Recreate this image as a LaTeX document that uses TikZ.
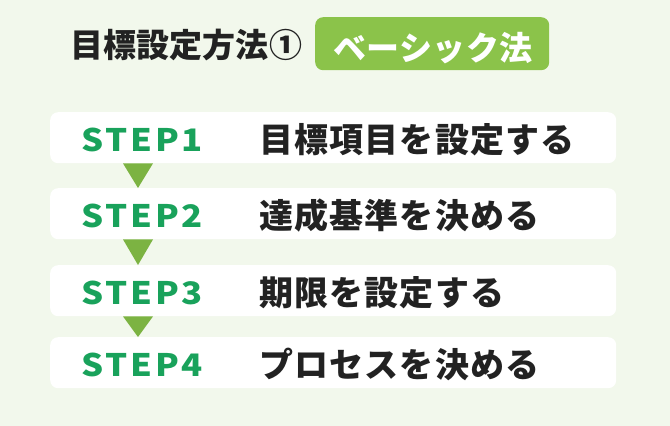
\documentclass[tikz,border=0pt]{standalone}
\usepackage{fontspec}
\newfontfamily\jp{Noto Sans CJK JP}
\newfontfamily\stepfont{Noto Sans CJK JP}[FakeStretch=1.12]
\definecolor{bg}{HTML}{F2F8EC}
\definecolor{tagg}{HTML}{8BC34A}
\definecolor{stepg}{HTML}{19A25B}
\definecolor{trig}{HTML}{7CB342}
\definecolor{ink}{HTML}{222222}
\tikzset{
  rowbox/.style={fill=white, draw=none, rounded corners=8pt, minimum width=566pt, minimum height=51pt, anchor=north west, inner sep=0pt},
  steplbl/.style={anchor=base west, inner sep=0pt, text=stepg, font={\stepfont\bfseries\fontsize{31}{36}\selectfont\addfontfeature{LetterSpace=9}}},
  desclbl/.style={anchor=base west, inner sep=0pt, text=ink, font={\jp\bfseries\fontsize{34}{40}\selectfont\addfontfeature{LetterSpace=3.5}}},
  tri/.style={fill=trig, draw=none},
}
\begin{document}
\begin{tikzpicture}[x=1pt,y=-1pt]
\fill[bg] (0,0) rectangle (670,426);
\useasboundingbox (0,0) rectangle (670,426);
% title
\node[anchor=base west, inner sep=0pt, text=ink, font={\jp\bfseries\fontsize{33}{40}\selectfont\addfontfeature{LetterSpace=0.5}}] (title) at (70,57) {目標設定方法①};
\node[fill=tagg, rounded corners=8pt, minimum width=234pt, minimum height=53pt, anchor=north west, inner sep=0pt] (tag) at (315,17) {};
\node[anchor=base, inner sep=0pt, text=white, font={\jp\bfseries\fontsize{33}{40}\selectfont\addfontfeature{LetterSpace=1.5}}] (tagtxt) at (433,60) {ベーシック法};
% rows
\node[rowbox] (r1) at (50,112) {};
\node[rowbox] (r2) at (50,188) {};
\node[rowbox] (r3) at (50,265) {};
\node[rowbox] (r4) at (50,337) {};
\node[steplbl] (s1) at (81,151) {STEP1};
\node[steplbl] (s2) at (81,227) {STEP2};
\node[steplbl] (s3) at (81,304) {STEP3};
\node[steplbl] (s4) at (81,376) {STEP4};
\node[desclbl] (d1) at (259,152) {目標項目を設定する};
\node[desclbl] (d2) at (259,228) {達成基準を決める};
\node[desclbl] (d3) at (259,305) {期限を設定する};
\node[desclbl] (d4) at (259,377) {プロセスを決める};
% triangles
\foreach \a/\b in {r1/r2, r2/r3, r3/r4}{
  \fill[tri] ([xshift=73pt]\a.south west) -- ([xshift=103pt]\a.south west) -- ([xshift=88pt]\b.north west) -- cycle;
}
\end{tikzpicture}
\end{document}
